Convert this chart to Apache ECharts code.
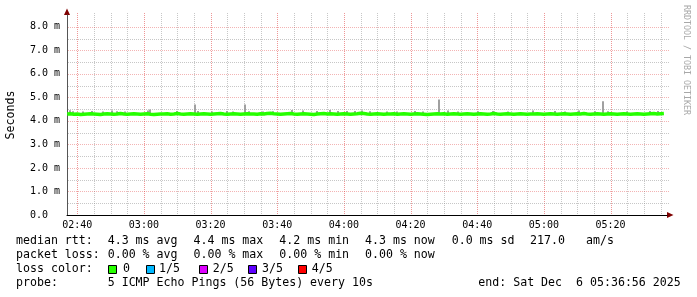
<!DOCTYPE html>
<html><head><meta charset="utf-8">
<script src="https://cdn.jsdelivr.net/npm/echarts@6/dist/echarts.min.js"></script>
<style>html,body{margin:0;padding:0;background:#fff}#c{width:697px;height:297px}</style>
</head><body><div id="c"></div>
<script>
// ---- data ----
const startTime = '02:36:56';
const endTime = '05:36:56';
const xTickLabels = ['02:40','03:00','03:20','03:40','04:00','04:20','04:40','05:00','05:20'];
const yTickValues = [0,1,2,3,4,5,6,7,8];
const yTickLabels = ['0.0  ','1.0 m','2.0 m','3.0 m','4.0 m','5.0 m','6.0 m','7.0 m','8.0 m'];
const yMax = 8.5;
const sampleStart = '02:37:00';
const sampleStepSec = 60;
// median rtt (ms), one sample per minute
const medianRtt = [
 4.29,4.30,4.28,4.29,4.27,4.28,4.29,4.30,4.29,4.28,4.27,4.29,4.30,4.29,4.28,4.29,4.31,4.29,4.28,4.29,
 4.30,4.29,4.28,4.29,4.30,4.28,4.27,4.28,4.29,4.29,4.30,4.28,4.29,4.31,4.29,4.28,4.29,4.30,4.29,4.28,
 4.29,4.30,4.29,4.28,4.29,4.30,4.31,4.29,4.28,4.29,4.30,4.29,4.28,4.29,4.30,4.29,4.29,4.28,4.30,4.29,
 4.31,4.32,4.30,4.29,4.28,4.29,4.30,4.31,4.29,4.28,4.29,4.30,4.29,4.28,4.27,4.29,4.30,4.31,4.29,4.30,
 4.29,4.28,4.29,4.30,4.29,4.28,4.29,4.30,4.32,4.31,4.29,4.28,4.29,4.30,4.29,4.28,4.29,4.29,4.30,4.28,
 4.29,4.30,4.29,4.28,4.29,4.30,4.29,4.28,4.27,4.28,4.29,4.30,4.29,4.30,4.28,4.29,4.30,4.29,4.28,4.29,
 4.30,4.29,4.28,4.29,4.30,4.29,4.28,4.29,4.31,4.29,4.28,4.29,4.30,4.29,4.28,4.29,4.30,4.29,4.28,4.29,
 4.29,4.30,4.29,4.28,4.29,4.30,4.29,4.28,4.29,4.30,4.29,4.28,4.29,4.30,4.29,4.31,4.29,4.28,4.29,4.30,
 4.29,4.28,4.29,4.30,4.29,4.28,4.29,4.30,4.29,4.28,4.29,4.30,4.29,4.28,4.29,4.30,4.31,4.29,4.30,4.31
];
// smoke (spread of the pings above the median)
const smokeTimes = ['02:37:50','02:38:44','02:41:44','02:44:26','02:47:44','02:50:26','02:51:56','02:54:20',
 '03:01:14','03:01:50','03:09:56','03:15:20','03:16:14','03:20:26','03:24:56','03:26:44','03:30:20','03:31:32',
 '03:35:44','03:38:44','03:44:26','03:47:44','03:51:56','03:55:50','03:58:14','04:00:56','04:03:20','04:05:26',
 '04:07:50','04:12:56','04:15:56','04:21:20','04:23:44','04:28:32','04:31:14','04:34:14','04:40:14','04:44:44',
 '04:49:14','04:56:44','05:03:20','05:06:20','05:10:32','05:15:20','05:17:44','05:19:14','05:24:56','05:31:50','05:34:14'];
const smokeHigh = [4.45,4.41,4.40,4.42,4.40,4.44,4.41,4.40,
 4.44,4.48,4.42,4.70,4.42,4.40,4.42,4.40,4.70,4.41,
 4.40,4.41,4.46,4.44,4.42,4.46,4.42,4.42,4.42,4.44,
 4.41,4.40,4.40,4.42,4.40,4.91,4.44,4.40,4.41,4.42,
 4.40,4.44,4.42,4.40,4.44,4.41,4.83,4.41,4.40,4.42,4.42];
const smokeLow = 4.27;
const lossLabels = ['0','1/5','2/5','3/5','4/5'];
const lossColors = ['#26ff00','#00b8ff','#dd00ff','#5e00ff','#ff0000'];

// ---- helpers ----
function toSec(s){const p=s.split(':').map(Number);return p[0]*3600+p[1]*60+(p[2]||0);}
function fmt(sec){const h=Math.floor(sec/3600),m=Math.floor(sec%3600/60);return String(h).padStart(2,'0')+':'+String(m).padStart(2,'0');}
const xMin = toSec(startTime), xMax = toSec(endTime);
const t0 = toSec(sampleStart);
const lineData = medianRtt.map((v,i)=>[t0+i*sampleStepSec, v]);
const smokeData = smokeTimes.map((t,i)=>[toSec(t), smokeLow, smokeHigh[i]]);
const xTickVals = xTickLabels.map(toSec);

// grid lines: vertical every 5 min (major every 20 min), horizontal every 0.5 (major every 1.0)
const vGridT = [], vGridMajor = [];
for (let t = toSec('02:40'); t < xMax; t += 300) { vGridT.push(t); vGridMajor.push((t % 1200) === 0); }
const hGridV = [], hGridMajor = [];
for (let k = 1; k <= 16; k++) { hGridV.push(k * 0.5); hGridMajor.push(k % 2 === 0); }
const MAJOR = 'rgba(222,48,47,0.36)', MINOR = 'rgba(143,143,143,0.5)';
const VMAJOR = 'rgba(222,48,47,0.5)';

const MONO = '"DejaVu Sans Mono", monospace';
const chart = echarts.init(document.getElementById('c'), null, {renderer:'canvas'});

const g = [];
const rowY = [241, 255, 269, 283];
function txt(x, y, s, extra){ g.push(Object.assign({type:'text', x, y, style:{text:s, font:'11.6px '+MONO, fill:'#000', textVerticalAlign:'middle', textAlign:'left'}}, extra||{})); }
txt(16,rowY[0],'median rtt:'); txt(107.7,rowY[0],'4.3 ms avg'); txt(193.5,rowY[0],'4.4 ms max'); txt(279.3,rowY[0],'4.2 ms min');
txt(365,rowY[0],'4.3 ms now'); txt(451.7,rowY[0],'0.0 ms sd'); txt(530,rowY[0],'217.0'); txt(586,rowY[0],'am/s');
txt(16,rowY[1],'packet loss:'); txt(107.7,rowY[1],'0.00 % avg'); txt(193.5,rowY[1],'0.00 % max'); txt(279.3,rowY[1],'0.00 % min'); txt(365,rowY[1],'0.00 % now');
txt(16,rowY[2],'loss color:');
const boxX = [108,146,199,248,298], lblX = [123,159,212.7,262,311.7];
lossLabels.forEach((l,i)=>{
  g.push({type:'rect', shape:{x:boxX[i]+0.5, y:265.5, width:8, height:8}, style:{fill:lossColors[i], stroke:'#000', lineWidth:1}});
  txt(lblX[i], rowY[2], l);
});
txt(16,rowY[3],'probe:'); txt(107.7,rowY[3],'5 ICMP Echo Pings (56 Bytes) every 10s'); txt(478.3,rowY[3],'end: Sat Dec  6 05:36:56 2025');
// watermark
g.push({type:'text', x:686.5, y:5, rotation:-Math.PI/2, style:{text:'RRDTOOL / TOBI OETIKER', font:'8.3px '+MONO, fill:'#a8a8a8', textAlign:'left', textVerticalAlign:'middle'}});
// axis arrows
g.push({type:'polygon', shape:{points:[[64,15],[70,15],[67,8.5]]}, style:{fill:'#7f0000'}});
g.push({type:'polygon', shape:{points:[[667,212],[667,218],[673.5,215]]}, style:{fill:'#7f0000'}});

chart.setOption({
  animation:false,
  backgroundColor:'#ffffff',
  grid:{left:67, right:30, top:15, bottom:82, containLabel:false, outerBoundsMode:'none'},
  xAxis:{type:'value', min:xMin, max:xMax,
    axisLine:{show:true, onZero:false, lineStyle:{color:'#000', width:1}},
    axisTick:{show:false},
    splitLine:{show:false},
    axisLabel:{customValues:xTickVals, formatter:v=>xTickLabels[xTickVals.indexOf(v)] ?? fmt(v), fontFamily:MONO, fontSize:10, color:'#000', margin:5}
  },
  yAxis:{type:'value', min:0, max:yMax,
    name:'Seconds', nameLocation:'middle', nameGap:50, nameTextStyle:{fontFamily:MONO, fontSize:11.6, color:'#000'},
    axisLine:{show:true, lineStyle:{color:'#555', width:1}},
    axisTick:{show:false},
    splitLine:{show:false},
    axisLabel:{customValues:yTickValues, formatter:v=>{const i=yTickValues.indexOf(v);return i>=0?yTickLabels[i]:'';}, fontFamily:MONO, fontSize:10, color:'#000', margin:7}
  },
  series:[
    {type:'custom', z:1, silent:true, data:vGridT.map((t,i)=>[t, 0, vGridMajor[i] ? 1 : 0]), clip:false,
     renderItem:(params, api)=>{
       const cs = params.coordSys;
       const x = Math.round(api.coord([api.value(0), 0])[0]) + 0.5;
       const major = api.value(2) === 1;
       return {type:'line', shape:{x1:x, y1:cs.y+cs.height-1, x2:x, y2:cs.y-2},
               style:{stroke: major ? VMAJOR : MINOR, lineWidth:1, lineDash:[1,1]}};
     }},
    {type:'custom', z:1, silent:true, data:hGridV.map((v,i)=>[xMin, v, hGridMajor[i] ? 1 : 0]), clip:false,
     renderItem:(params, api)=>{
       const cs = params.coordSys;
       const y = Math.round(api.coord([xMin, api.value(1)])[1]) + 0.5;
       return {type:'line', shape:{x1:cs.x+1, y1:y, x2:cs.x+cs.width+2, y2:y},
               style:{stroke: api.value(2) === 1 ? MAJOR : MINOR, lineWidth:1, lineDash:[1,1]}};
     }},
    {type:'custom', z:2, silent:true, data:smokeData,
     renderItem:(params, api)=>{
       const p1 = api.coord([api.value(0), api.value(1)]);
       const p2 = api.coord([api.value(0), api.value(2)]);
       return {type:'rect', shape:{x:Math.round(p1[0])-1, y:p2[1], width:2, height:p1[1]-p2[1]}, style:{fill:'#a0a0a0'}};
     }},
    {type:'line', z:3, data:lineData, showSymbol:false, symbol:'none', lineStyle:{color:'#26ff00', width:3.5}, silent:true}
  ],
  graphic:g
});
</script></body></html>
